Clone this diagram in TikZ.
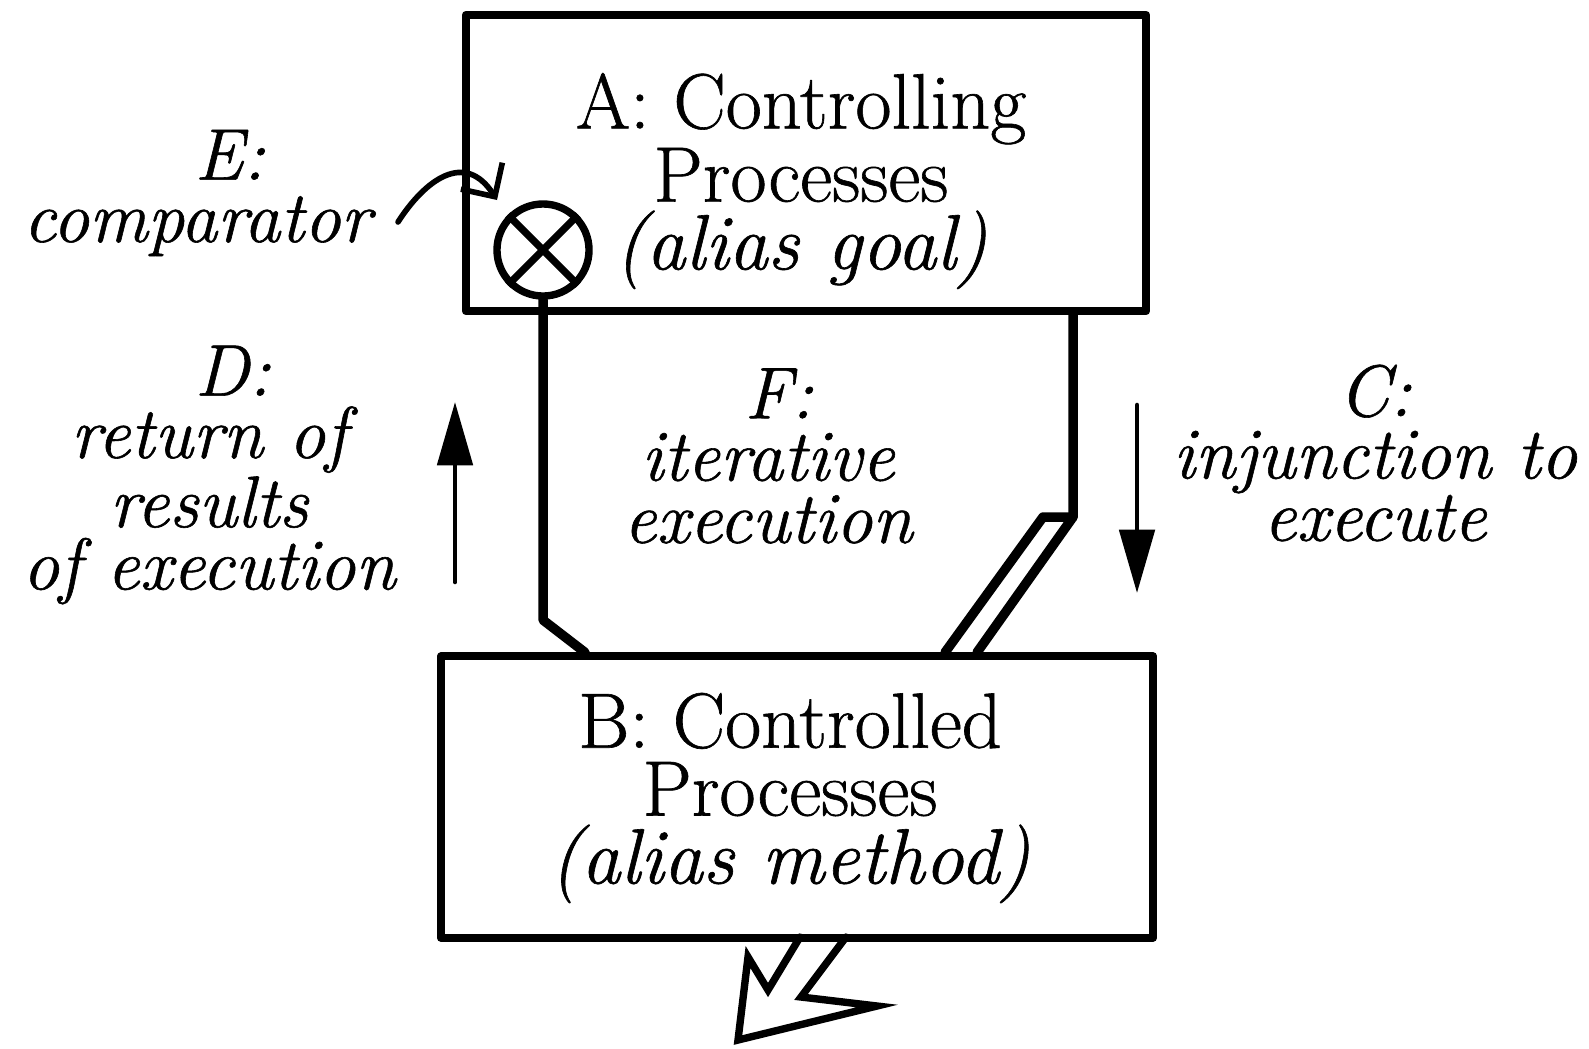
\documentclass[tikz,border=0pt]{standalone}
\usepackage{fontspec}
\setmainfont{Latin Modern Roman}[FakeBold=0.8]
\usetikzlibrary{arrows.meta}

\begin{document}
\begin{tikzpicture}[line join=round,line cap=round,x=0.01cm,y=-0.01cm,
		procbox/.style={draw,line width=2.3pt,inner sep=0pt},
		boxtext/.style={align=center,inner sep=0pt,font=\fontsize{22.3}{19.3}\selectfont},
		lab/.style={align=center,inner sep=0pt,font=\fontsize{20.8}{17.7}\selectfont\itshape},
		link/.style={line width=2.7pt},
		flow/.style={line width=1.3pt,-{Triangle[length=18pt,width=10pt]}}]
			\useasboundingbox (0,0) rectangle (1589,1048);
			\draw[line width=2.1pt,line join=miter,miter limit=20] (800,937) -- (768,990) -- (748,957) -- (738,1040) -- (877,1006) -- (801,997) -- (846,937);
			\node[procbox,minimum width=6.8cm,minimum height=2.96cm] (boxA) at (806,163) {};
			\node[procbox,minimum width=7.12cm,minimum height=2.81cm] (boxB) at (797,797) {};
			\node[boxtext] (txtA) at (801,181) {A: Controlling\\Processes\\\textit{(alias goal)}};
			\node[boxtext] (txtB) at (790,798) {B: Controlled\\Processes\\\textit{(alias method)}};
			\node[circle,draw,line width=2.1pt,minimum size=0.92cm,inner sep=0pt] (comp) at (543,250) {};
			\draw[line width=2.1pt,line cap=butt] (comp.45)--(comp.225) (comp.135)--(comp.315);
			\node[lab] (eLab) at (197,193) {\hspace*{0.9em}E:\\comparator};
			\node[lab] (dLab) at (209,475) {\hspace*{0.65em}D:\\return of\\results\\of execution};
			\node[lab] (fLab) at (768,456) {\hspace*{0.3em}F:\\iterative\\execution};
			\node[lab] (cLab) at (1375,453) {C:\\injunction to\\execute};
			\coordinate (eStart) at (398,222);
			\coordinate (eTip) at (497,200);
			\draw[line width=1.6pt,-{Straight Barb[length=7pt,width=14pt]}] (eStart) .. controls (425,180) and (465,150) .. (eTip);
			\coordinate (lBend) at (543,620);
			\draw[link] (comp.south) -- (lBend) -- (585,0 |- boxB.north);
			\coordinate (rBend) at (1073,517);
			\draw[link] (rBend |- boxA.south) -- (rBend) -- (977,0 |- boxB.north);
			\draw[link] (945,0 |- boxB.north) -- (1043,0 |- rBend) -- (rBend);
			\coordinate (dTail) at (455,582);
			\coordinate (dTip) at (455,402);
			\draw[flow] (dTail) -- (dTip);
			\coordinate (cTail) at (1137,405);
			\coordinate (cTip) at (1137,593);
			\draw[flow] (cTail) -- (cTip);
		\end{tikzpicture}
\end{document}
